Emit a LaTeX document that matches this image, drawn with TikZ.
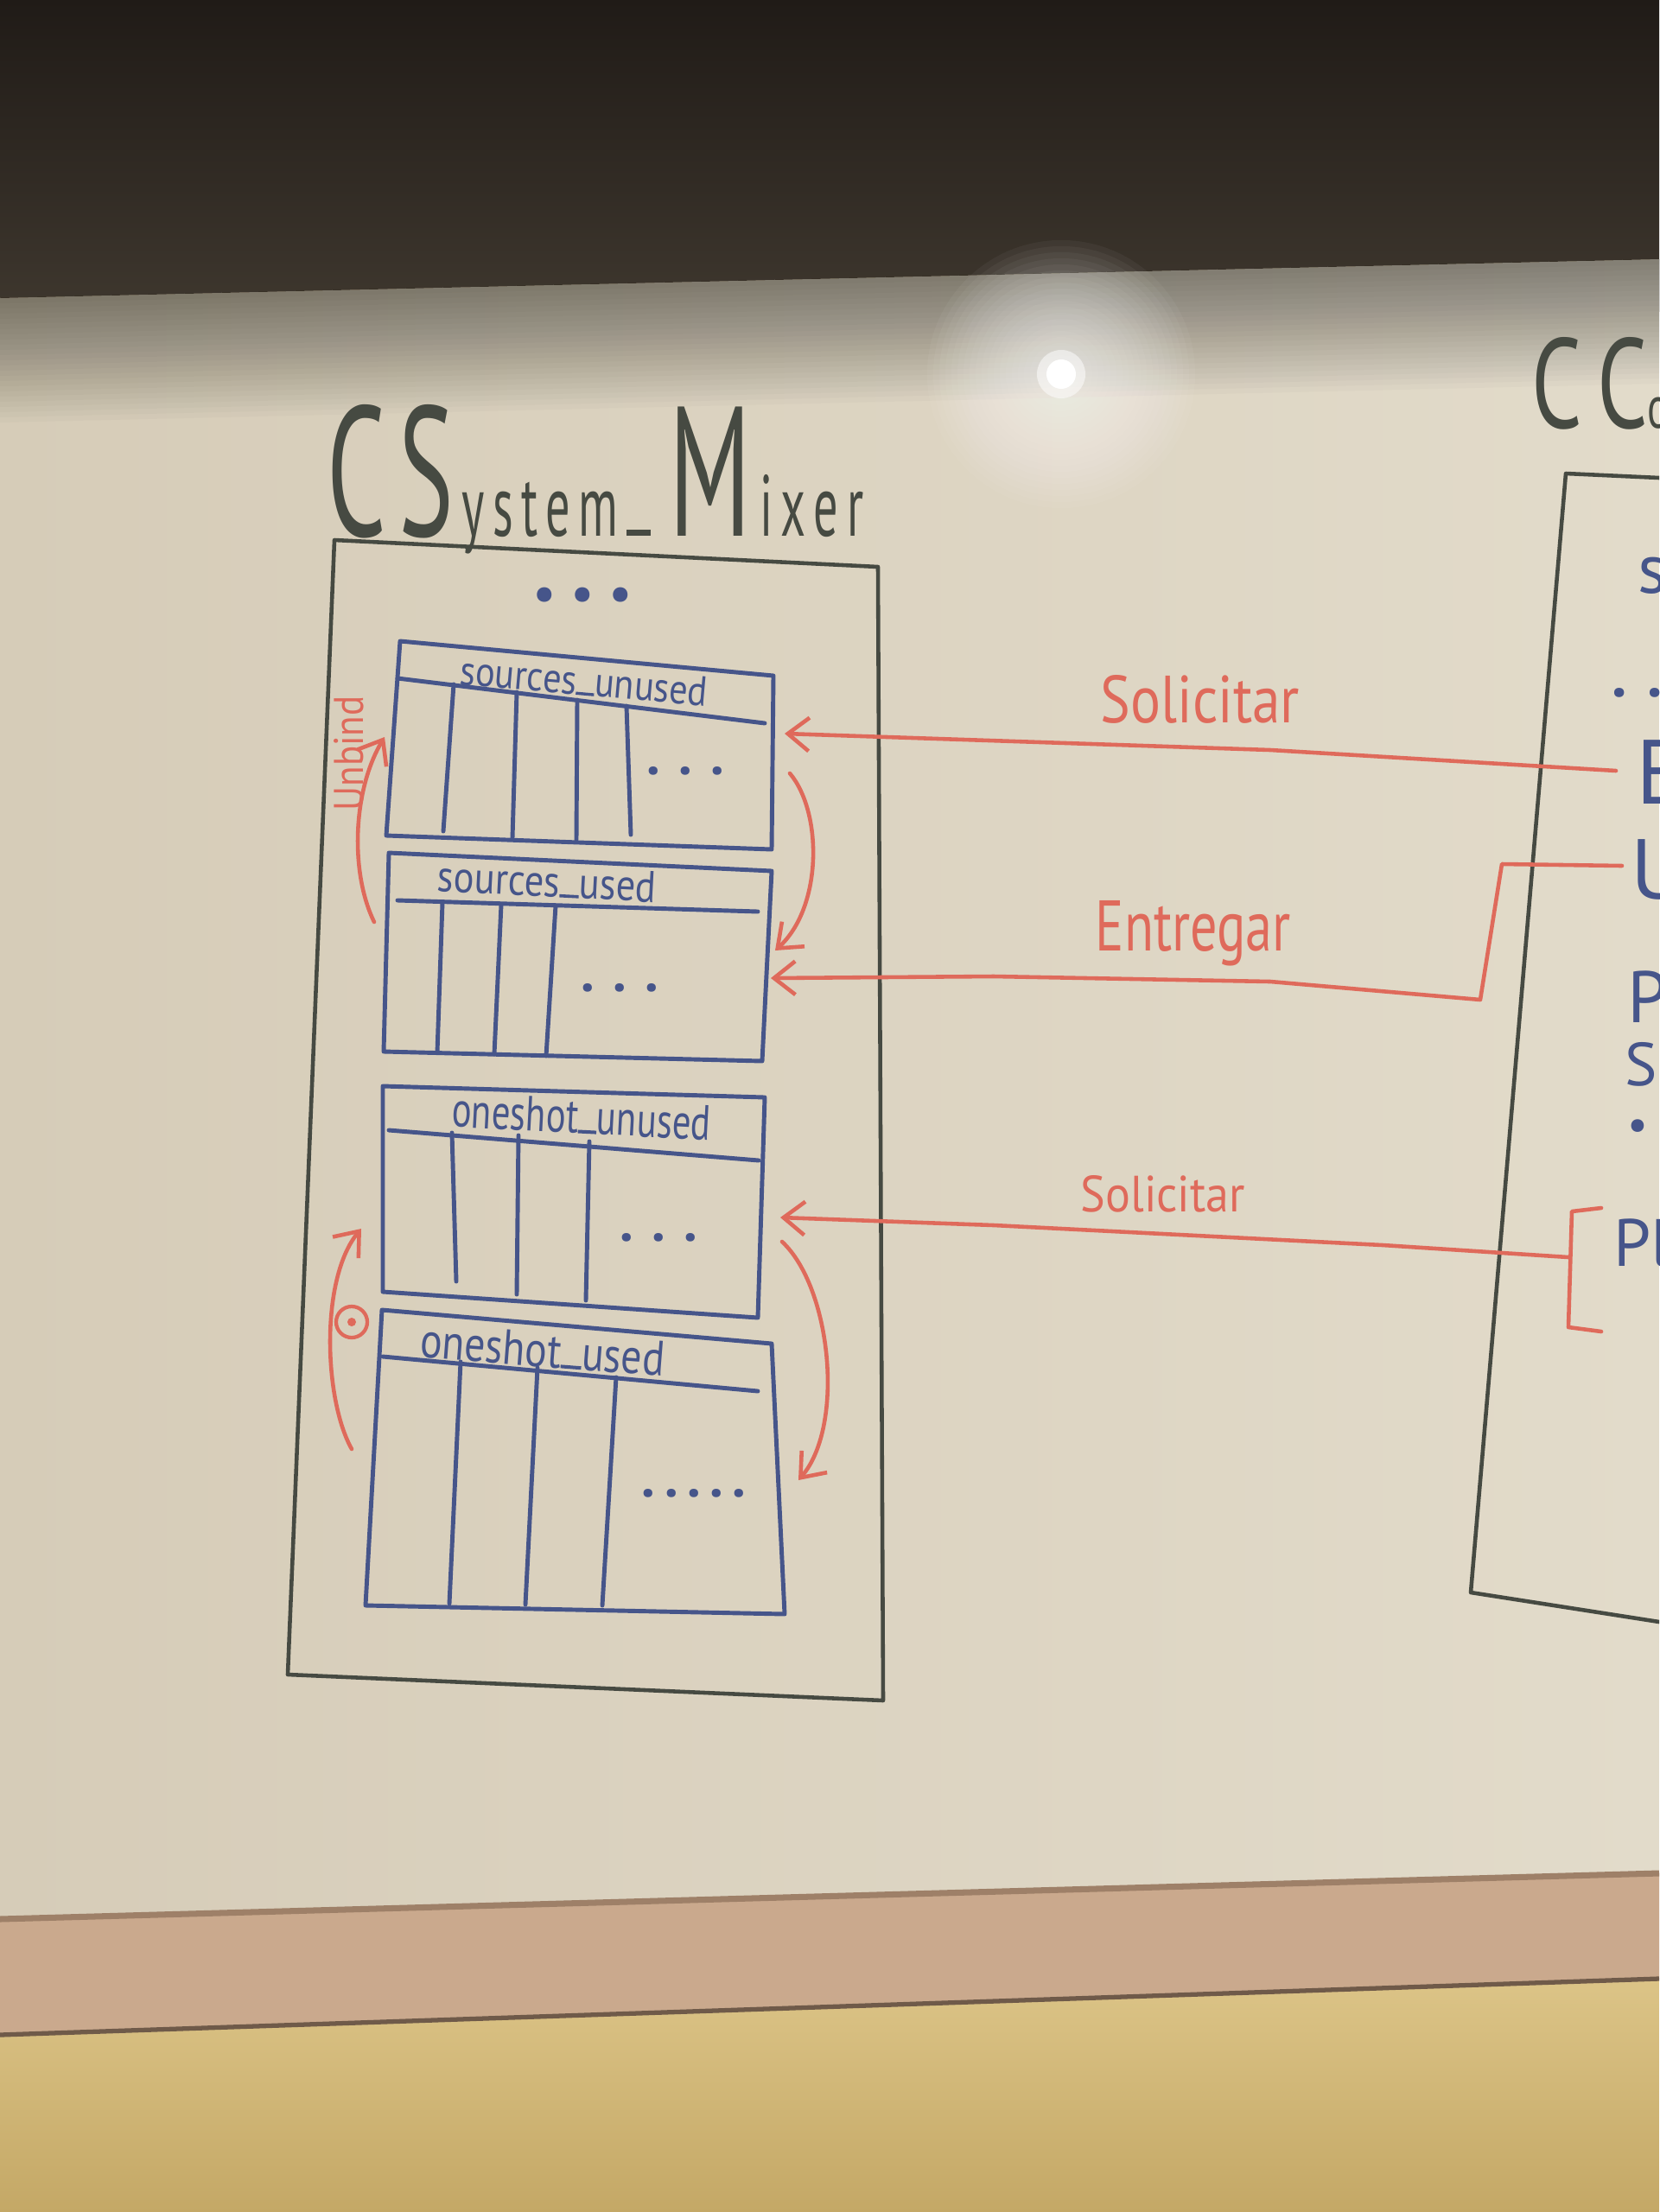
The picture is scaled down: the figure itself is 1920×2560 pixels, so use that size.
\documentclass[tikz,border=0pt]{standalone}
\usepackage{fontspec}
\usepackage{graphicx}
\setmainfont{PT Sans}
\usetikzlibrary{arrows.meta}
\definecolor{bandtop}{HTML}{201B17}
\definecolor{bandbot}{HTML}{3E372E}
\definecolor{boardL}{HTML}{D6CCB8}
\definecolor{boardR}{HTML}{E2DBCA}
\definecolor{frameC}{HTML}{CAA98D}
\definecolor{frameD}{HTML}{9E8068}
\definecolor{wallT}{HTML}{DCC487}
\definecolor{wallB}{HTML}{C4A866}
\definecolor{ink}{HTML}{464A42}
\definecolor{blueink}{HTML}{46558A}
\definecolor{redink}{HTML}{DF6A5B}
\newcommand\usc{\rule{0.5em}{0.07em}}
\newcommand\lc[1]{{\fontsize{4.7}{5}\selectfont #1}}
\tikzset{
  outline/.style={draw=ink, line width=1.3pt, line join=round, line cap=round},
  tbl/.style={draw=blueink, line width=1.4pt, line join=round, line cap=round},
  redline/.style={draw=redink, line width=1.3pt, line join=round, line cap=round},
  redarr/.style={redline, -{Straight Barb[length=7pt,width=11pt,line width=1.3pt]}},
  hdr/.style={text=blueink, inner sep=0pt},
  lbl/.style={text=redink, inner sep=0pt},
  dotsty/.style={text=blueink, inner sep=0pt, font=\fontsize{18}{18}\selectfont\bfseries},
  rtxt/.style={text=blueink, inner sep=0pt, anchor=base west},
  ttl/.style={text=ink, inner sep=0pt, anchor=base west},
}
\begin{document}
\begin{tikzpicture}[x=0.01cm, y=-0.01cm]
\useasboundingbox (0,0) rectangle (1920,2560);
\clip (0,0) rectangle (1920,2560);
% ---------- background (photo surroundings) ----------
\shade[top color=bandtop, bottom color=bandbot] (0,0) rectangle (1920,360);
\shade[left color=boardL, right color=boardR] (0,345) -- (1920,300) -- (1920,2168) -- (0,2221) -- cycle;
\foreach \i in {1,...,24}
  \fill[black, opacity=0.018] (0,345) -- (1920,300) -- (1920,{300+\i*6}) -- (0,{345+\i*6}) -- cycle;
\foreach \r in {0.15,0.22,...,1.6}
  \fill[white, opacity=0.045] (1228,433) circle (\r cm);
\fill[white, opacity=0.5] (1228,433) circle (0.28cm);
\fill[white] (1228,433) circle (0.17cm);
\fill[frameC] (0,2221) -- (1920,2168) -- (1920,2290) -- (0,2355) -- cycle;
\draw[frameD, line width=2pt] (0,2221) -- (1920,2168);
\shade[top color=wallT, bottom color=wallB] (0,2355) -- (1920,2290) -- (1920,2560) -- (0,2560) -- cycle;
\draw[frameD!70!black, line width=1.5pt] (0,2355) -- (1920,2290);

% ---------- CSystem_Mixer ----------
\node[ttl] (title) at (378,620) {\resizebox{6.2cm}{1.52cm}{C\hspace{0.12em}S\lc{\,y\,s\,t\,e\,m\,\usc\,}\hspace{0.1em}M\lc{\,i\,x\,e\,r}}};
\coordinate (oTL) at (387,625);
\coordinate (oTR) at (1016,656);
\coordinate (oBR) at (1022,1968);
\coordinate (oBL) at (333,1938);
\draw[outline] (oTL) -- (oTR) -- (oBR) -- (oBL) -- cycle;
\node[text=blueink, inner sep=0pt] (topdots) at (674,694) {\resizebox{1.15cm}{!}{• • •}};

% table 1: sources_unused
\coordinate (a1) at (463,742); \coordinate (a2) at (895,782);
\coordinate (a3) at (893,983); \coordinate (a4) at (447,967);
\draw[tbl] (a1) -- (a2) -- (a3) -- (a4) -- cycle;
\draw[tbl] (460,785) -- (885,837);
\draw[tbl] (525,792) -- (513,962);
\draw[tbl] (598,801) -- (593,970);
\draw[tbl] (668,810) -- (667,972);
\draw[tbl] (725,817) -- (730,966);
\node[hdr, rotate=-5] (h1) at (676,788) {\resizebox{2.87cm}{0.34cm}{sources\usc unused}};
\node[dotsty] (d1) at (793,892) {. . .};

% table 2: sources_used
\coordinate (b1) at (450,987); \coordinate (b2) at (893,1008);
\coordinate (b3) at (882,1228); \coordinate (b4) at (444,1217);
\draw[tbl] (b1) -- (b2) -- (b3) -- (b4) -- cycle;
\draw[tbl] (460,1042) -- (877,1055);
\draw[tbl] (512,1045) -- (506,1218);
\draw[tbl] (580,1047) -- (572,1220);
\draw[tbl] (643,1048) -- (632,1222);
\node[hdr, rotate=-3] (h2) at (633,1020) {\resizebox{2.53cm}{0.36cm}{sources\usc used}};
\node[dotsty] (d2) at (717,1143) {. . .};

% table 3: oneshot_unused
\coordinate (c1) at (443,1257); \coordinate (c2) at (885,1270);
\coordinate (c3) at (877,1525); \coordinate (c4) at (443,1495);
\draw[tbl] (c1) -- (c2) -- (c3) -- (c4) -- cycle;
\draw[tbl] (450,1308) -- (878,1343);
\draw[tbl] (523,1311) -- (528,1483);
\draw[tbl] (600,1314) -- (598,1498);
\draw[tbl] (682,1321) -- (678,1505);
\node[hdr, rotate=-3] (h3) at (673,1292) {\resizebox{3.0cm}{0.4cm}{oneshot\usc unused}};
\node[dotsty] (d3) at (762,1432) {. . .};

% table 4: oneshot_used
\coordinate (e1) at (442,1516); \coordinate (e2) at (893,1555);
\coordinate (e3) at (908,1868); \coordinate (e4) at (423,1858);
\draw[tbl] (e1) -- (e2) -- (e3) -- (e4) -- cycle;
\draw[tbl] (443,1570) -- (877,1610);
\draw[tbl] (533,1576) -- (520,1856);
\draw[tbl] (622,1583) -- (608,1857);
\draw[tbl] (713,1594) -- (697,1858);
\node[hdr, rotate=-4.5] (h4) at (628,1562) {\resizebox{2.83cm}{0.4cm}{oneshot\usc used}};
\node[dotsty] (d4) at (803,1728) {.\,.\,.\,.\,.};

% ---------- red arrows inside ----------
\coordinate (ub0) at (433,1067); \coordinate (ub1) at (445,853);
\draw[redarr] (ub0) .. controls (405,1010) and (408,915) .. (ub1);
\node[lbl, rotate=90] (unbind) at (404,872) {\resizebox{1.33cm}{0.34cm}{Unbind}};

\coordinate (os0) at (407,1677); \coordinate (os1) at (418,1422);
\draw[redarr] (os0) .. controls (375,1620) and (370,1480) .. (os1);
\node[circle, draw=redink, line width=1.2pt, minimum size=0.36cm, inner sep=0pt] (osym) at (407,1530) {};
\fill[redink] (osym.center) circle (0.05cm);

\coordinate (b1out) at (914,895); \coordinate (b2in) at (897,1100);
\draw[redarr] (b1out) .. controls (952,940) and (952,1050) .. (b2in);
\coordinate (b3out) at (905,1437); \coordinate (b4in) at (924,1713);
\draw[redarr] (b3out) .. controls (962,1490) and (978,1650) .. (b4in);

% ---------- right class box ----------
\node[ttl] (title2) at (1772,495) {\resizebox{1.6cm}{1.05cm}{C\,C\lc{o}}};
\coordinate (rTL) at (1812,548); \coordinate (rTR) at (1920,553);
\coordinate (rBL) at (1702,1843); \coordinate (rBR) at (1920,1877);
\draw[outline] (rTR) -- (rTL) -- (rBL) -- (rBR);
\node[rtxt, font=\fontsize{23}{23}\selectfont] (rs) at (1895,686) {s};
\node[rtxt, font=\fontsize{20}{20}\selectfont\bfseries] (rdd) at (1865,806) {. .};
\node[rtxt, font=\fontsize{30}{30}\selectfont] (rE) at (1893,930) {E};
\node[rtxt, font=\fontsize{28}{28}\selectfont] (rU) at (1887,1040) {U};
\node[rtxt, font=\fontsize{24}{24}\selectfont] (rP) at (1883,1183) {P};
\node[rtxt, font=\fontsize{20}{20}\selectfont] (rS) at (1880,1256) {S};
\node[text=blueink, inner sep=0pt, font=\fontsize{15}{15}\selectfont] (rdot) at (1895,1308) {•};
\node[rtxt, font=\fontsize{22}{22}\selectfont] (rPl) at (1867,1465) {Pl};

% ---------- red connectors ----------
\coordinate (sE) at (1870,892); \coordinate (b1in) at (908,849);
\draw[redarr] (sE) -- (1470,868) -- (b1in);
\node[lbl, anchor=base west] (lsol1) at (1273,836) {\resizebox{2.3cm}{0.55cm}{Solicitar}};

\coordinate (sU) at (1877,1002); \coordinate (b2in2) at (892,1132);
\draw[redarr] (sU) -- (1738,1000) -- (1713,1157) -- (1470,1136) -- (1150,1130) -- (b2in2);
\node[lbl, anchor=base west] (lent) at (1267,1100) {\resizebox{2.26cm}{0.58cm}{Entregar}};

\coordinate (sPl) at (1815,1455); \coordinate (b3in) at (903,1409);
\draw[redline] (1853,1398) -- (1819,1402) -- (1815,1536) -- (1853,1541);
\draw[redarr] (sPl) -- (1600,1441) -- (1150,1418) -- (b3in);
\node[lbl, anchor=base west] (lsol2) at (1250,1402) {\resizebox{1.9cm}{0.42cm}{Solicitar}};
\end{tikzpicture}
\end{document}
